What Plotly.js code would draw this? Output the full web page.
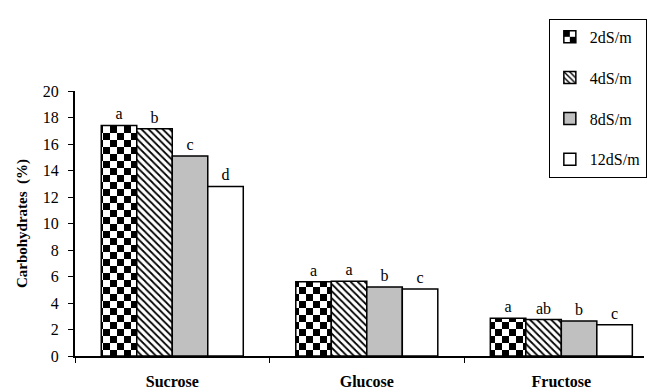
<!DOCTYPE html>
<html>
<head>
<meta charset="utf-8">
<script src="https://cdn.plot.ly/plotly-3.0.1.min.js"></script>
<style>html,body{margin:0;padding:0;background:#fff;}#chart{width:651px;height:390px;}</style>
</head>
<body>
<div id="chart"></div>
<script>
var categories = ["Sucrose", "Glucose", "Fructose"];
var seriesNames = ["2dS/m", "4dS/m", "8dS/m", "12dS/m"];
var values2 = [17.4, 5.6, 2.85];
var values4 = [17.15, 5.65, 2.75];
var values8 = [15.1, 5.2, 2.65];
var values12 = [12.8, 5.05, 2.35];
var letters2 = ["a", "a", "a"];
var letters4 = ["b", "a", "ab"];
var letters8 = ["c", "b", "b"];
var letters12 = ["d", "c", "c"];
var yTicks = [0, 2, 4, 6, 8, 10, 12, 14, 16, 18, 20];

var serif = "'Liberation Serif', 'Times New Roman', serif";
var line = {color: "#000", width: 1.5};
function mk(name, vals, txt, marker, grp) {
  return {
    type: "bar", name: name, x: categories, y: vals,
    text: txt, textposition: "outside", cliponaxis: false,
    textfont: {family: serif, size: 16, color: "#000"},
    marker: marker, legendgroup: grp, hoverinfo: "none"
  };
}
var traces = [
  mk(seriesNames[0], values2, letters2, {color: "#fff", line: line, pattern: {shape: "+", fgcolor: "#000", bgcolor: "#fff", size: 14, solidity: 0.5}}, "g1"),
  mk(seriesNames[1], values4, letters4, {color: "#fff", line: line, pattern: {shape: "\\", fgcolor: "#000", bgcolor: "#fff", size: 5, solidity: 0.35}}, "g2"),
  mk(seriesNames[2], values8, letters8, {color: "#c0c0c0", line: line}, "g3"),
  mk(seriesNames[3], values12, letters12, {color: "#fff", line: line}, "g4")
];

var layout = {
  width: 651, height: 390,
  margin: {l: 75, r: 4, t: 91, b: 34},
  paper_bgcolor: "#fff", plot_bgcolor: "#fff",
  barmode: "group", bargap: 0.27, bargroupgap: 0,
  font: {family: serif, color: "#000"},
  showlegend: true,
  legend: {
    x: 1.005, xanchor: "right", y: 1.272, yanchor: "top",
    bordercolor: "#000", borderwidth: 1, bgcolor: "#fff",
    font: {family: serif, size: 16, color: "#000"},
    traceorder: "grouped", tracegroupgap: 17, itemwidth: 30
  },
  xaxis: {
    type: "category", range: [-0.5, 2.425],
    tickson: "boundaries", ticks: "outside", ticklen: 5, tickcolor: "#000", tickwidth: 1,
    showline: true, linecolor: "#000", linewidth: 2, showgrid: false, zeroline: false,
    tickfont: {family: serif, size: 16, color: "#000", weight: "bold"},
    ticklabelstandoff: 10, fixedrange: true
  },
  yaxis: {
    range: [0, 20], tickvals: yTicks, ticks: "outside", ticklen: 5, tickcolor: "#000", tickwidth: 1,
    showline: true, linecolor: "#000", linewidth: 2, showgrid: false, zeroline: false,
    tickfont: {family: serif, size: 16, color: "#000"},
    ticklabelstandoff: 6,
    title: {text: "Carbohydrates  (%)", font: {family: serif, size: 15, color: "#000", weight: "bold"}, standoff: 12},
    fixedrange: true
  }
};

Plotly.newPlot("chart", traces, layout, {displayModeBar: false, staticPlot: true}).then(function (gd) {
  var svg = gd.querySelector(".main-svg");
  var defs = svg.querySelector("defs");
  var ns = "http://www.w3.org/2000/svg";
  var pat = document.createElementNS(ns, "pattern");
  pat.setAttribute("id", "checker");
  pat.setAttribute("patternUnits", "userSpaceOnUse");
  pat.setAttribute("width", "14");
  pat.setAttribute("height", "14");
  var r0 = document.createElementNS(ns, "rect");
  r0.setAttribute("width", "14"); r0.setAttribute("height", "14"); r0.setAttribute("fill", "#fff");
  pat.appendChild(r0);
  [[0, 0], [7, 7]].forEach(function (p) {
    var r = document.createElementNS(ns, "rect");
    r.setAttribute("x", p[0]); r.setAttribute("y", p[1]);
    r.setAttribute("width", "7"); r.setAttribute("height", "7"); r.setAttribute("fill", "#000");
    pat.appendChild(r);
  });
  defs.appendChild(pat);
  var tr = gd.querySelectorAll(".barlayer .trace")[0];
  if (tr) tr.querySelectorAll("path").forEach(function (p) { p.style.fill = "url(#checker)"; });
  var lt = gd.querySelectorAll(".legend .traces")[0];
  if (lt) lt.querySelectorAll(".legendpoints path").forEach(function (p) { p.style.fill = "url(#checker)"; });
});
</script>
</body>
</html>
